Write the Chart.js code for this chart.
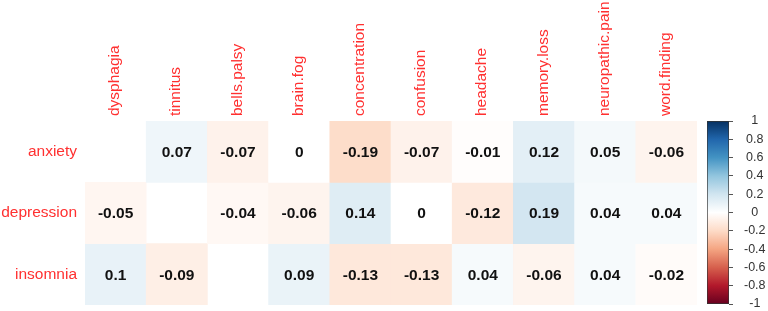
<!DOCTYPE html>
<html><head><meta charset="utf-8">
<script src="https://cdn.jsdelivr.net/npm/chart.js@4"></script>
<style>
html,body{margin:0;padding:0;background:#fff;width:768px;height:311px;overflow:hidden}
</style></head><body>
<div style="position:absolute;left:0;top:0;width:697px;height:311px"><canvas id="main"></canvas></div>
<div style="position:absolute;left:697px;top:0;width:71px;height:311px"><canvas id="bar"></canvas></div>
<script>
// ---- data ----
const symptoms = ['dysphagia','tinnitus','bells.palsy','brain.fog','concentration','confusion','headache','memory.loss','neuropathic.pain','word.finding'];
const conditions = ['anxiety','depression','insomnia'];
const anxiety    = [null, 0.07, -0.07, 0, -0.19, -0.07, -0.01, 0.12, 0.05, -0.06];
const depression = [-0.05, null, -0.04, -0.06, 0.14, 0, -0.12, 0.19, 0.04, 0.04];
const insomnia   = [0.1, -0.09, null, 0.09, -0.13, -0.13, 0.04, -0.06, 0.04, -0.02];
const legendTicks = [1, 0.8, 0.6, 0.4, 0.2, 0, -0.2, -0.4, -0.6, -0.8, -1];
const rows = [anxiety, depression, insomnia];

// ---- styling ----
const FONT = "'Liberation Sans', Arial, sans-serif";
Chart.defaults.font.family = FONT;
const palette = ['#67001F','#B2182B','#D6604D','#F4A582','#FDDBC7','#FFFFFF','#D1E5F0','#92C5DE','#4393C3','#2166AC','#053061'];
function hex2rgb(h){return [parseInt(h.slice(1,3),16),parseInt(h.slice(3,5),16),parseInt(h.slice(5,7),16)];}
function colorFor(v){
  const t = (v + 1) / 2 * (palette.length - 1);
  const i = Math.min(Math.floor(t), palette.length - 2);
  const f = t - i;
  const a = hex2rgb(palette[i]), b = hex2rgb(palette[i+1]);
  const c = a.map((x,k)=>Math.round(x + (b[k]-x)*f));
  return `rgb(${c[0]},${c[1]},${c[2]})`;
}
const labelRed = '#ff3030';

const valuePlugin = {
  id: 'cellValues',
  afterDatasetsDraw(chart){
    const {ctx, scales:{x, y}} = chart;
    ctx.save();
    ctx.font = `bold 15.5px ${FONT}`;
    ctx.fillStyle = '#111';
    ctx.textAlign = 'center';
    ctx.textBaseline = 'middle';
    rows.forEach((vals, r) => vals.forEach((v, c) => {
      if (v === null) return;
      ctx.fillText(String(v), x.getPixelForValue(c), y.getPixelForValue(r + 0.5) + 1);
    }));
    ctx.restore();
  }
};

new Chart(document.getElementById('main'), {
  type: 'bar',
  data: {
    labels: symptoms,
    datasets: rows.map((vals, r) => ({
      label: conditions[r],
      data: vals.map(v => v === null ? null : [r, r + 1]),
      backgroundColor: vals.map(v => v === null ? 'rgba(0,0,0,0)' : colorFor(v)),
      grouped: false,
      barPercentage: 1,
      categoryPercentage: 1,
      borderWidth: 0
    }))
  },
  options: {
    responsive: true, maintainAspectRatio: false, animation: false,
    plugins: {legend: {display: false}, tooltip: {enabled: false}},
    layout: {padding: {left: 0, right: 0, top: 0, bottom: 6}},
    scales: {
      x: {
        position: 'top',
        grid: {display: false, drawTicks: false},
        border: {display: false},
        ticks: {autoSkip: false, minRotation: 90, maxRotation: 90, padding: 5, labelOffset: 18, color: labelRed, font: {size: 15.5}},
        afterFit(s){ s.height = 121; s.paddingLeft = 0; s.paddingRight = 0; }
      },
      y: {
        reverse: true, min: 0, max: 3,
        grid: {display: false, drawTicks: false},
        border: {display: false},
        afterBuildTicks(s){ s.ticks = conditions.map((c, i) => ({value: i + 0.5})); },
        ticks: {callback: (v, i) => conditions[i], padding: 8, color: labelRed, font: {size: 15.5}},
        afterFit(s){ s.width = 85; s.paddingTop = 0; s.paddingBottom = 0; }
      }
    }
  },
  plugins: [valuePlugin]
});

new Chart(document.getElementById('bar'), {
  type: 'bar',
  data: {
    labels: [''],
    datasets: [{
      data: [[-1, 1]],
      backgroundColor: (ctx) => {
        const ch = ctx.chart, ys = ch.scales.y;
        if (!ys || !ch.chartArea) return '#fff';
        const y0 = ys.getPixelForValue(-1), y1 = ys.getPixelForValue(1);
        if (!isFinite(y0) || !isFinite(y1)) return '#fff';
        const g = ch.ctx.createLinearGradient(0, y0, 0, y1);
        palette.forEach((c, i) => g.addColorStop(i / (palette.length - 1), c));
        return g;
      },
      borderColor: '#333',
      borderWidth: 1,
      borderSkipped: false,
      barPercentage: 1,
      categoryPercentage: 1
    }]
  },
  options: {
    responsive: true, maintainAspectRatio: false, animation: false,
    plugins: {legend: {display: false}, tooltip: {enabled: false}},
    layout: {padding: {left: 10, top: 121, bottom: 7, right: 0}},
    scales: {
      x: {display: false},
      y: {
        position: 'right', min: -1, max: 1,
        afterBuildTicks(s){ s.ticks = legendTicks.map(v => ({value: v})); },
        grid: {drawOnChartArea: false, drawTicks: true, tickLength: 4, color: '#555'},
        border: {display: false},
        ticks: {padding: 11, crossAlign: 'center', color: '#333', font: {size: 12.5},
                callback: (v) => String(v)},
        afterFit(s){ s.width = 39; s.paddingTop = 0; s.paddingBottom = 0; }
      }
    }
  }
});
</script>
</body></html>
